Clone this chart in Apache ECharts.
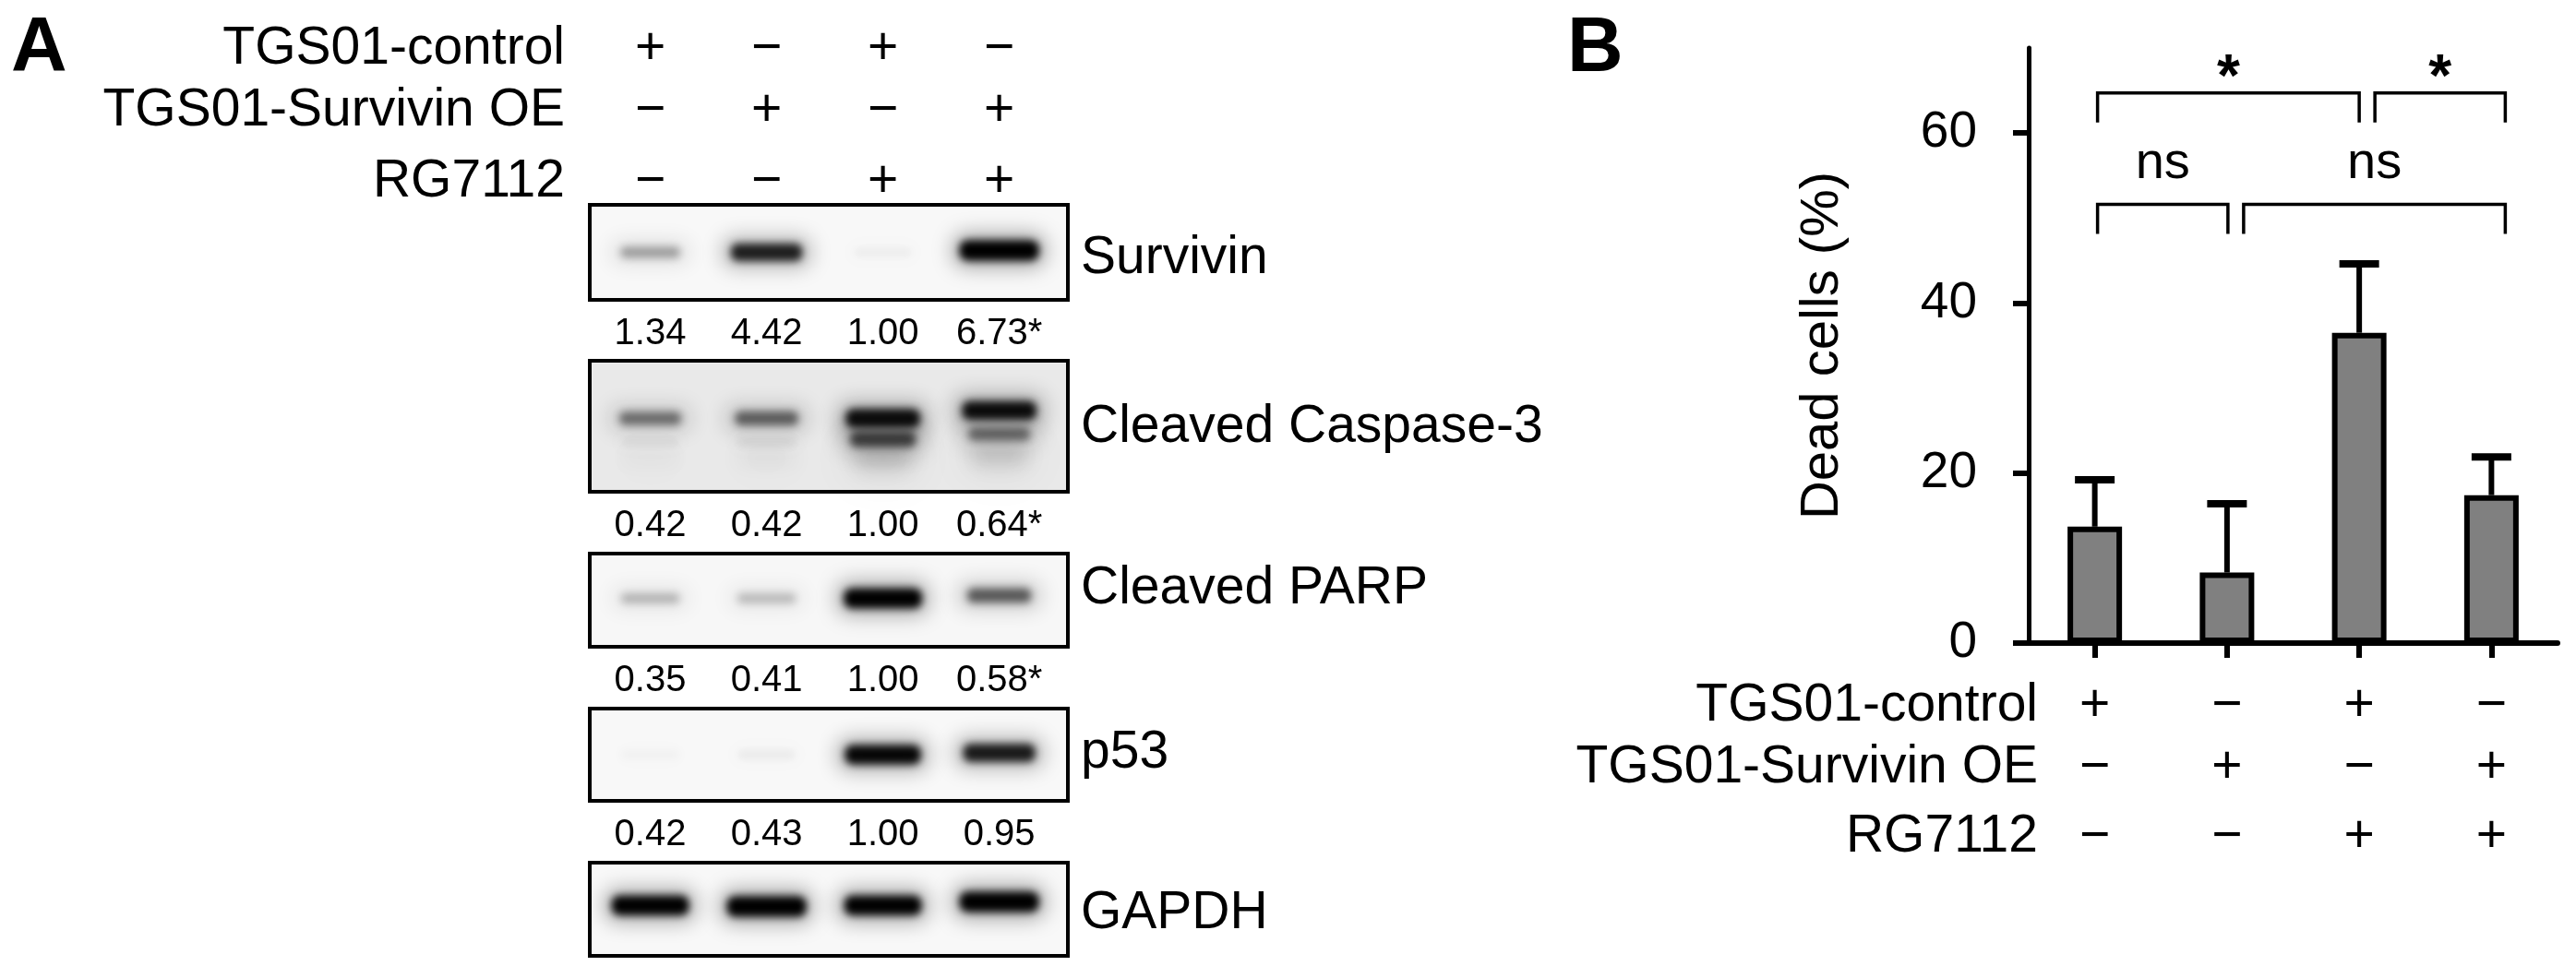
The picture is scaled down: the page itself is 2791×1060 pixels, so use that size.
<!DOCTYPE html>
<html><head><meta charset="utf-8">
<script src="https://cdn.jsdelivr.net/npm/echarts@6/dist/echarts.min.js"></script>
<style>html,body{margin:0;padding:0;background:#fff}#c{width:2791px;height:1060px}</style>
</head><body><div id="c"></div>
<script>
// ================= DATA =================
const conditionRows = ['TGS01-control', 'TGS01-Survivin OE', 'RG7112'];
const controlSigns = ['+', '\u2212', '+', '\u2212'];
const survivinOESigns = ['\u2212', '+', '\u2212', '+'];
const rg7112Signs = ['\u2212', '\u2212', '+', '+'];
const lanes = [0, 1, 2, 3];

const blotNames = ['Survivin', 'Cleaved Caspase-3', 'Cleaved PARP', 'p53', 'GAPDH'];
const survivinQuant = ['1.34', '4.42', '1.00', '6.73*'];
const caspaseQuant = ['0.42', '0.42', '1.00', '0.64*'];
const parpQuant = ['0.35', '0.41', '1.00', '0.58*'];
const p53Quant = ['0.42', '0.43', '1.00', '0.95'];

// band intensity (0..1) and relative migration within strip (0 top .. 1 bottom)
const survivinBand = [0.30, 0.80, 0.04, 1.0];
const survivinPos = [0.50, 0.50, 0.50, 0.48];
const caspaseUpperBand = [0.45, 0.52, 0.88, 0.88];
const caspaseUpperPos = [0.44, 0.44, 0.44, 0.38];
const caspaseLowerBand = [0.04, 0.06, 0.62, 0.45];
const caspaseLowerPos = [0.62, 0.62, 0.60, 0.56];
const caspaseSmear = [0.03, 0.04, 0.16, 0.14];
const caspaseSmearPos = [0.74, 0.74, 0.74, 0.72];
const parpBand = [0.22, 0.20, 0.97, 0.55];
const parpPos = [0.48, 0.48, 0.48, 0.45];
const p53Band = [0.03, 0.05, 0.92, 0.82];
const p53Pos = [0.50, 0.50, 0.50, 0.48];
const gapdhBand = [0.95, 1.0, 0.95, 1.0];
const gapdhPos = [0.46, 0.47, 0.46, 0.42];

const groups = ['G1', 'G2', 'G3', 'G4'];
const deadCells = [13.7, 8.3, 36.5, 17.4];
const deadCellsUpper = [19.2, 16.4, 44.6, 21.9];
const yTicks = [0, 20, 40, 60];
const sigPairs = [[0, 2], [2, 3], [0, 1], [1, 3]];
const sigLevels = [64.7, 64.7, 51.6, 51.6];
const sigLabels = ['*', '*', 'ns', 'ns'];

// ================= LAYOUT / STYLE =================
const FONT = 'Liberation Sans, Arial, Helvetica, sans-serif';
const blotLayout = [
  { top: 222, height: 103, bg: '#f8f8f8' },
  { top: 391, height: 142, bg: '#e9e9e9' },
  { top: 600, height: 101, bg: '#f7f7f7' },
  { top: 768, height: 100, bg: '#f8f8f8' },
  { top: 935, height: 101, bg: '#f8f8f8' }
];
const blotLabelY = [280, 463, 638, 816, 990];
const quantRows = [survivinQuant, caspaseQuant, parpQuant, p53Quant, null];
const bandSets = [
  [0, survivinBand, survivinPos, 1],
  [1, caspaseUpperBand, caspaseUpperPos, 1],
  [1, caspaseLowerBand, caspaseLowerPos, 1],
  [1, caspaseSmear, caspaseSmearPos, 2.2],
  [2, parpBand, parpPos, 1],
  [3, p53Band, p53Pos, 1],
  [4, gapdhBand, gapdhPos, 1]
];
const laneMin = -0.52, laneMax = 3.59;
const bracketInsets = [[3, 0], [17, 15], [3, 1], [18, 15]];
const OFF = 4000; // draw band shapes off-canvas, keep only their blurred shadow

const grids = [];
const xAxes = [];
const yAxes = [];
const series = [];

blotLayout.forEach((b, i) => {
  grids.push({ left: 639, width: 518, top: b.top, height: b.height, show: true,
    backgroundColor: b.bg, borderColor: '#000', borderWidth: 4, outerBoundsMode: 'none', containLabel: false });
  const q = quantRows[i];
  xAxes.push({ gridIndex: i, type: 'value', min: laneMin, max: laneMax, position: 'bottom',
    axisLine: { show: false }, axisTick: { show: false }, splitLine: { show: false },
    axisLabel: { show: !!q, customValues: lanes, formatter: v => (q ? q[Math.round(v)] : ''),
      margin: 37, fontSize: 40, color: '#000', fontFamily: FONT, verticalAlign: 'middle' } });
  yAxes.push({ gridIndex: i, type: 'value', min: 0, max: 1, inverse: true, show: false });
});

const signRows = [controlSigns, survivinOESigns, rg7112Signs];
const aOffsets = [169, 102, 25];
signRows.forEach((s, r) => {
  xAxes.push({ gridIndex: 0, type: 'value', min: laneMin, max: laneMax, position: 'top', offset: aOffsets[r],
    axisLine: { show: false }, axisTick: { show: false }, splitLine: { show: false },
    axisLabel: { customValues: lanes, formatter: v => s[Math.round(v)], margin: 0, fontSize: 57,
      color: '#000', fontFamily: FONT, verticalAlign: 'middle' },
    name: conditionRows[r], nameLocation: 'start', nameGap: 27,
    nameTextStyle: { fontSize: 57, color: '#000', fontFamily: FONT, verticalAlign: 'middle' } });
});

grids.push({ left: 2198, width: 573, top: 52, height: 645, outerBoundsMode: 'none', containLabel: false });
xAxes.push({ gridIndex: 5, type: 'category', data: groups, position: 'bottom',
  axisLine: { show: true, lineStyle: { color: '#000', width: 6 } },
  axisTick: { show: true, alignWithLabel: true, length: 16, lineStyle: { color: '#000', width: 6 } },
  axisLabel: { show: false }, splitLine: { show: false } });
const bOffsets = [68, 135, 210];
signRows.forEach((s, r) => {
  xAxes.push({ gridIndex: 5, type: 'category', data: s, position: 'bottom', offset: bOffsets[r],
    axisLine: { show: false }, axisTick: { show: false }, splitLine: { show: false },
    axisLabel: { margin: 0, fontSize: 57, color: '#000', fontFamily: FONT, verticalAlign: 'middle', interval: 0 },
    name: conditionRows[r], nameLocation: 'start', nameGap: -10,
    nameTextStyle: { fontSize: 57, color: '#000', fontFamily: FONT, verticalAlign: 'middle' } });
});
yAxes.push({ gridIndex: 5, type: 'value', min: 0, max: 70,
  axisLine: { show: true, lineStyle: { color: '#000', width: 5 } },
  axisTick: { show: true, length: 17, customValues: yTicks, lineStyle: { color: '#000', width: 6 } },
  axisLabel: { customValues: yTicks, margin: 56, fontSize: 55, color: '#000', fontFamily: FONT },
  splitLine: { show: false },
  name: 'Dead cells (%)', nameLocation: 'middle', nameGap: 194,
  nameTextStyle: { fontSize: 58, color: '#000', fontFamily: FONT } });

// ---- blot bands (soft: only the blurred shadow of an off-canvas shape is visible) ----
function bandRenderer(spread) {
  return (params, api) => {
    const k = api.value(2);
    const c = api.coord([api.value(0), api.value(1)]);
    const layers = [
      { w: 78 + 22 * k, h: (20 + 16 * k) * spread, a: 0.35 * k, blur: 22 * spread },
      { w: 62 + 24 * k * k, h: (8 + 14 * k) * spread, a: Math.min(1, 1.05 * k), blur: 9 * spread }
    ];
    return { type: 'group', children: layers.map(L => ({
      type: 'rect', culling: false,
      shape: { x: c[0] - L.w / 2 - OFF, y: c[1] - L.h / 2, width: L.w, height: L.h, r: L.h / 2.5 },
      style: { fill: '#000', shadowBlur: L.blur, shadowOffsetX: OFF, shadowOffsetY: 0,
        shadowColor: `rgba(0,0,0,${L.a.toFixed(3)})` }
    })) };
  };
}
bandSets.forEach(([g, inten, pos, spread]) => {
  series.push({ type: 'custom', xAxisIndex: g, yAxisIndex: g, silent: true, clip: false, z: 3,
    data: lanes.map(i => [i, pos[i], inten[i]]), renderItem: bandRenderer(spread) });
});

// ---- panel B ----
series.push({ type: 'bar', xAxisIndex: 8, yAxisIndex: 5, data: deadCells, barWidth: 59, z: 3,
  itemStyle: { color: '#808080', borderColor: '#000', borderWidth: 6 }, silent: true });
series.push({ type: 'custom', xAxisIndex: 8, yAxisIndex: 5, z: 2, silent: true,
  data: groups.map((g, i) => [i, deadCells[i], deadCellsUpper[i]]),
  renderItem: (params, api) => {
    const x = api.coord([api.value(0), 0])[0];
    const yBar = api.coord([api.value(0), api.value(1)])[1];
    const yTop = api.coord([api.value(0), api.value(2)])[1];
    return { type: 'group', children: [
      { type: 'line', shape: { x1: x, y1: yBar, x2: x, y2: yTop }, style: { stroke: '#000', lineWidth: 6 } },
      { type: 'line', shape: { x1: x - 21.5, y1: yTop, x2: x + 21.5, y2: yTop }, style: { stroke: '#000', lineWidth: 8 } }
    ] };
  } });
series.push({ type: 'custom', xAxisIndex: 8, yAxisIndex: 5, z: 4, silent: true,
  data: sigPairs.map((p, i) => [p[0], p[1], sigLevels[i]]),
  renderItem: (params, api) => {
    const k = params.dataIndex;
    const yl = api.coord([0, api.value(2)])[1];
    const x1 = api.coord([api.value(0), 0])[0] + bracketInsets[k][0];
    const x2 = api.coord([api.value(1), 0])[0] + bracketInsets[k][1];
    const lab = sigLabels[k];
    const star = lab === '*';
    return { type: 'group', children: [
      { type: 'polyline', shape: { points: [[x1, yl + 32], [x1, yl], [x2, yl], [x2, yl + 32]] },
        style: { stroke: '#000', lineWidth: 3.5, fill: null } },
      { type: 'text', x: (x1 + x2) / 2, y: yl - (star ? 14 : 44),
        style: { text: lab, fontSize: star ? 64 : 56, fontWeight: star ? 'bold' : 'normal', fontFamily: FONT,
          fill: '#000', align: 'center', verticalAlign: 'middle' } }
    ] };
  } });

const graphics = [
  { type: 'text', x: 12, y: 54, style: { text: 'A', fontSize: 84, fontWeight: 'bold', fontFamily: FONT, fill: '#000', align: 'left', verticalAlign: 'middle' } },
  { type: 'text', x: 1698, y: 54, style: { text: 'B', fontSize: 84, fontWeight: 'bold', fontFamily: FONT, fill: '#000', align: 'left', verticalAlign: 'middle' } }
];
blotNames.forEach((n, i) => graphics.push({ type: 'text', x: 1171, y: blotLabelY[i],
  style: { text: n, fontSize: 57, fontFamily: FONT, fill: '#000', align: 'left', verticalAlign: 'middle' } }));

const chart = echarts.init(document.getElementById('c'), null, { renderer: 'canvas' });
chart.setOption({
  animation: false,
  backgroundColor: '#fff',
  textStyle: { fontFamily: FONT, color: '#000' },
  grid: grids, xAxis: xAxes, yAxis: yAxes, series: series, graphic: graphics
});
</script></body></html>
